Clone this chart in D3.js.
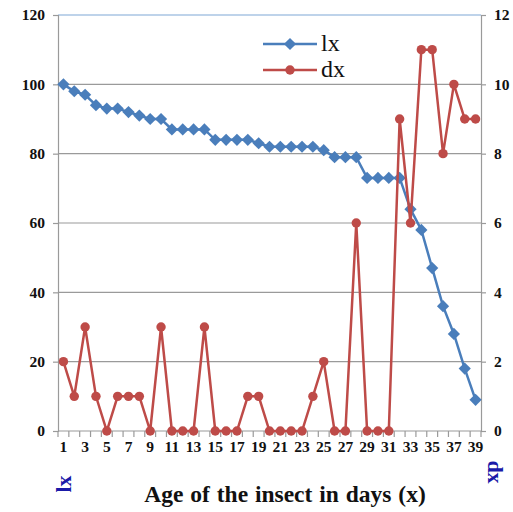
<!DOCTYPE html>
<html><head><meta charset="utf-8">
<script src="https://cdn.jsdelivr.net/npm/d3@7"></script>
<style>body{margin:0;background:#fff}svg{display:block}</style>
</head><body>
<script>
const days = d3.range(1, 40);
const lx = [100,98,97,94,93,93,92,91,90,90,87,87,87,87,84,84,84,84,83,82,82,82,82,82,81,79,79,79,73,73,73,73,64,58,47,36,28,18,9];
const dx = [2,1,3,1,0,1,1,1,0,3,0,0,0,3,0,0,0,1,1,0,0,0,0,1,2,0,0,6,0,0,0,9,6,11,11,8,10,9,9];
const leftTicks = [0,20,40,60,80,100,120];
const rightTicks = [0,2,4,6,8,10,12];
const xLabels = days.filter(d => d % 2 === 1);

const W = 513, H = 512;
const m = {l:58, r:481, t:15, b:431};
const svg = d3.select("body").append("svg").attr("width", W).attr("height", H);
const font = "'Liberation Serif','Times New Roman',serif";

const x = d3.scaleBand().domain(days).range([m.l, m.r]);
const yL = d3.scaleLinear().domain([0,120]).range([m.b, m.t]);
const yR = d3.scaleLinear().domain([0,12]).range([m.b, m.t]);

svg.append("g").selectAll("line").data(leftTicks.filter(t => t > 0)).join("line")
  .attr("x1", m.l).attr("x2", m.r).attr("y1", d => yL(d)).attr("y2", d => yL(d))
  .attr("stroke", d => d === 120 ? "#7fa7d6" : "#9a9a9a").attr("stroke-width", 1.2);

const gl = svg.append("g").attr("transform", `translate(${m.l},0)`)
  .call(d3.axisLeft(yL).tickValues(leftTicks).tickSize(5).tickPadding(8));
const gr = svg.append("g").attr("transform", `translate(${m.r},0)`)
  .call(d3.axisRight(yR).tickValues(rightTicks).tickSize(5).tickPadding(8));
const gb = svg.append("g").attr("transform", `translate(0,${m.b})`)
  .call(d3.axisBottom(x).tickValues(xLabels).tickSize(0).tickPadding(10));
const bounds = days.map(d => x(d)).concat([m.r]);
svg.append("g").selectAll("line").data(bounds).join("line")
  .attr("x1", d => d).attr("x2", d => d).attr("y1", m.b).attr("y2", m.b + 6)
  .attr("stroke", "#9a9a9a").attr("stroke-width", 1.2);

[gl, gr, gb].forEach(g => {
  g.attr("font-family", null).attr("font-size", null);
  g.selectAll(".domain").attr("stroke", "#9a9a9a").attr("stroke-width", 1.2);
  g.selectAll(".tick line").attr("stroke", "#9a9a9a").attr("stroke-width", 1.2);
  g.selectAll("text").style("font-family", font).style("font-weight", "bold")
    .style("font-size", "15.5px").attr("fill", "#111");
});
gb.selectAll(".domain").remove();
svg.append("line").attr("x1", m.l).attr("x2", m.r).attr("y1", m.b).attr("y2", m.b)
  .attr("stroke", "#9a9a9a").attr("stroke-width", 1.2);

const cx = d => x(d) + x.bandwidth() / 2;
const blue = "#4a7ebb", red = "#be4b48";

svg.append("path").datum(lx).attr("fill", "none").attr("stroke", blue).attr("stroke-width", 2.5)
  .attr("d", d3.line().x((d,i) => cx(days[i])).y(d => yL(d)));
const diamond = d3.symbol().type(d3.symbolDiamond2).size(95);
svg.append("g").selectAll("path").data(lx).join("path")
  .attr("d", diamond).attr("transform", (d,i) => `translate(${cx(days[i])},${yL(d)})`)
  .attr("fill", blue);

svg.append("path").datum(dx).attr("fill", "none").attr("stroke", red).attr("stroke-width", 2.5)
  .attr("d", d3.line().x((d,i) => cx(days[i])).y(d => yR(d)));
svg.append("g").selectAll("circle").data(dx).join("circle")
  .attr("cx", (d,i) => cx(days[i])).attr("cy", d => yR(d)).attr("r", 4.7).attr("fill", red);

const leg = [{name:"lx", c:blue, y:44, sym:"d"}, {name:"dx", c:red, y:70, sym:"c"}];
leg.forEach(l => {
  svg.append("line").attr("x1", 263).attr("x2", 317).attr("y1", l.y).attr("y2", l.y)
    .attr("stroke", l.c).attr("stroke-width", 2.5);
  if (l.sym === "d") svg.append("path").attr("d", diamond).attr("transform", `translate(290,${l.y})`).attr("fill", l.c);
  else svg.append("circle").attr("cx", 290).attr("cy", l.y).attr("r", 4.7).attr("fill", l.c);
  svg.append("text").attr("x", 321).attr("y", l.y + 7).text(l.name)
    .style("font-family", font).style("font-size", "24px").attr("fill", "#111");
});

svg.append("text").attr("x", 285).attr("y", 502).attr("text-anchor", "middle")
  .style("font-family", font).style("font-weight", "bold").style("font-size", "23.5px").attr("fill", "#111")
  .style("word-spacing", "1px")
  .text("Age of the insect in days (x)");
svg.append("text").attr("transform", "translate(71,484) rotate(-90)").attr("text-anchor", "middle")
  .style("font-family", font).style("font-weight", "bold").style("font-size", "22px").attr("fill", "#1a1aa8")
  .text("lx");
svg.append("text").attr("transform", "translate(488,472) rotate(90)").attr("text-anchor", "middle")
  .style("font-family", font).style("font-weight", "bold").style("font-size", "22px").attr("fill", "#1a1aa8")
  .text("dx");
</script>
</body></html>
